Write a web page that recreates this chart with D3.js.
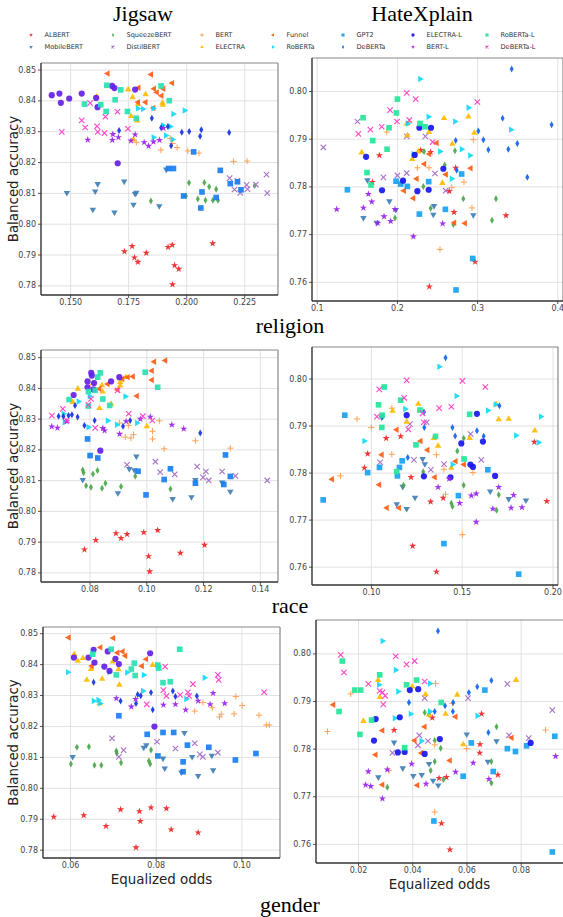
<!DOCTYPE html>
<html>
<head>
<meta charset="utf-8">
<script src="https://cdn.jsdelivr.net/npm/d3@7"></script>
<style>
  body { margin: 0; background: #fff; }
  svg { display: block; }
</style>
</head>
<body>
<div class="container"></div>
<script>
const width = 563;
const height = 917;

// modelos, na ordem da legenda
const models = ['ALBERT', 'MobileBERT', 'SqueezeBERT', 'DistilBERT', 'BERT', 'ELECTRA', 'Funnel',
  'RoBERTa', 'GPT2', 'DeBERTa', 'ELECTRA-L', 'BERT-L', 'RoBERTa-L', 'DeBERTa-L'];
const shapes = ['star', 'triDown', 'thinDiamond', 'x', 'plus', 'triUp', 'triLeft',
  'triRight', 'square', 'thinDiamond', 'circle', 'star', 'square', 'x'];
const colors = ['#ee2424', '#3f7fb6', '#4aa64a', '#a672c8', '#ffa255', '#ffbb00', '#ff5c12',
  '#14d8fa', '#18a2f2', '#1062f0', '#1616f0', '#9a22f0', '#24e69a', '#ff44c8'];
// no Jigsaw alguns tons são diferentes
const jigsawColors = { 'GPT2': '#1a7ef0', 'DeBERTa': '#1432e0', 'ELECTRA-L': '#6420e6', 'RoBERTa-L': '#26e2b2' };

const datasets = ['Jigsaw', 'HateXplain'];
const attributes = ['religion', 'race', 'gender'];

// [equalized odds, balanced accuracy]
const jigsawReligion = {
  'ALBERT': [[0.1734,0.7910],[0.1767,0.7927],[0.1777,0.7890],[0.1792,0.7876],[0.1828,0.7905],[0.1922,0.7924],[0.1940,0.7931],[0.1950,0.7865],[0.1968,0.7853],[0.1941,0.7803],[0.2114,0.7936]],
  'MobileBERT': [[0.1486,0.8100],[0.1608,0.8105],[0.1619,0.8129],[0.1598,0.8046],[0.1691,0.8037],[0.1733,0.8137],[0.1780,0.8097],[0.1785,0.8101],[0.1773,0.8062],[0.1884,0.8057],[0.1914,0.8176]],
  'SqueezeBERT': [[0.1848,0.8074],[0.1999,0.8090],[0.2012,0.8133],[0.2050,0.8080],[0.2078,0.8134],[0.2083,0.8076],[0.2099,0.8120],[0.2115,0.8076],[0.2129,0.8112],[0.2137,0.8076],[0.2295,0.8124]],
  'DistilBERT': [[0.2187,0.8148],[0.2208,0.8111],[0.2220,0.8139],[0.2233,0.8100],[0.2260,0.8126],[0.2264,0.8112],[0.2300,0.8127],[0.2346,0.8159],[0.2349,0.8099]],
  'BERT': [[0.1785,0.8264],[0.1891,0.8239],[0.1931,0.8277],[0.1941,0.8260],[0.1961,0.8247],[0.2007,0.8236],[0.2055,0.8229],[0.2204,0.8202],[0.2262,0.8203]],
  'ELECTRA': [[0.1750,0.8435],[0.1769,0.8410],[0.1825,0.8419],[0.1792,0.8387],[0.1898,0.8392],[0.1899,0.8385],[0.1763,0.8349],[0.1789,0.8334],[0.1773,0.8273],[0.1615,0.8412]],
  'Funnel': [[0.1662,0.8487],[0.1849,0.8484],[0.1940,0.8456],[0.1795,0.8441],[0.1862,0.8438],[0.1902,0.8438],[0.1874,0.8426],[0.1894,0.8415],[0.1825,0.8394],[0.1793,0.8394],[0.1859,0.8375]],
  'RoBERTa': [[0.1792,0.8374],[0.1813,0.8372],[0.1858,0.8374],[0.1944,0.8356],[0.1993,0.8367],[0.1899,0.8319],[0.1941,0.8273],[0.1859,0.8280],[0.1912,0.8286],[0.1931,0.8315]],
  'GPT2': [[0.1924,0.8179],[0.1945,0.8179],[0.2032,0.8233],[0.2147,0.8173],[0.1989,0.8090],[0.2068,0.8103],[0.2063,0.8051],[0.2129,0.8085],[0.2190,0.8130],[0.2221,0.8136],[0.2236,0.8110]],
  'DeBERTa': [[0.1852,0.8342],[0.1711,0.8302],[0.1892,0.8311],[0.1921,0.8315],[0.1981,0.8297],[0.2013,0.8299],[0.2060,0.8284],[0.2065,0.8305],[0.2185,0.8296],[0.1935,0.8253]],
  'ELECTRA-L': [[0.1421,0.8417],[0.1454,0.8422],[0.1460,0.8392],[0.1496,0.8406],[0.1550,0.8422],[0.1612,0.8408],[0.1618,0.8378],[0.1681,0.8447],[0.1691,0.8440],[0.1780,0.8435],[0.1705,0.8196]],
  'BERT-L': [[0.1576,0.8272],[0.1684,0.8290],[0.1682,0.8271],[0.1708,0.8280],[0.1762,0.8269],[0.1780,0.8289],[0.1819,0.8264],[0.1838,0.8252],[0.1859,0.8266],[0.1885,0.8271],[0.1902,0.8310]],
  'RoBERTa-L': [[0.1658,0.8449],[0.1562,0.8388],[0.1632,0.8386],[0.1655,0.8364],[0.1694,0.8402],[0.1718,0.8434],[0.1747,0.8364],[0.1785,0.8342],[0.1892,0.8447],[0.1927,0.8399]],
  'DeBERTa-L': [[0.1464,0.8298],[0.1550,0.8335],[0.1565,0.8312],[0.1586,0.8391],[0.1616,0.8316],[0.1619,0.8298],[0.1648,0.8294],[0.1652,0.8347],[0.1704,0.8363],[0.1749,0.8308]]
};

const hatexplainReligion = {
  'ALBERT': [[0.1781,0.7865],[0.2296,0.7876],[0.2421,0.7872],[0.2654,0.7790],[0.2733,0.7839],[0.2712,0.7746],[0.3360,0.7739],[0.2404,0.7590],[0.2974,0.7642],[0.1694,0.7809]],
  'MobileBERT': [[0.1632,0.7813],[0.1582,0.7734],[0.1748,0.7724],[0.1906,0.7769],[0.2454,0.7741],[0.2463,0.7759],[0.2953,0.7740],[0.1985,0.7751]],
  'SqueezeBERT': [[0.2338,0.7873],[0.2596,0.7845],[0.2724,0.7875],[0.2828,0.7774],[0.3235,0.7774],[0.3186,0.7729],[0.2330,0.7800],[0.2421,0.7754],[0.2704,0.7720],[0.1976,0.7734]],
  'DistilBERT': [[0.1083,0.7882],[0.1507,0.7936],[0.2122,0.7905],[0.2355,0.7905],[0.1831,0.7819],[0.2006,0.7823],[0.2122,0.7828],[0.2475,0.7827],[0.2608,0.7791]],
  'BERT': [[0.1873,0.7914],[0.2151,0.7936],[0.2255,0.7839],[0.2400,0.7839],[0.2683,0.7798],[0.2836,0.7809],[0.2953,0.7898],[0.2936,0.7755],[0.2537,0.7668]],
  'ELECTRA': [[0.1561,0.7871],[0.2122,0.7931],[0.2130,0.7907],[0.2400,0.7914],[0.2587,0.7943],[0.2891,0.7946],[0.2965,0.7912],[0.2691,0.7889],[0.2192,0.7857],[0.2267,0.7873],[0.2566,0.7807]],
  'Funnel': [[0.2496,0.7891],[0.2342,0.7847],[0.2404,0.7868],[0.2247,0.7816],[0.2089,0.7791],[0.2205,0.7775],[0.2612,0.7825],[0.2920,0.7838],[0.2716,0.7724],[0.2849,0.7723]],
  'RoBERTa': [[0.2288,0.8025],[0.2891,0.7965],[0.2392,0.7946],[0.2134,0.7932],[0.2724,0.7936],[0.2537,0.7873],[0.2807,0.7878],[0.2911,0.7865],[0.2683,0.7816],[0.3422,0.7919],[0.2205,0.7868]],
  'GPT2': [[0.1382,0.7793],[0.1989,0.7811],[0.2047,0.7805],[0.2130,0.7800],[0.2396,0.7810],[0.2604,0.7752],[0.2280,0.7742],[0.2807,0.7826],[0.2945,0.7649],[0.2737,0.7583]],
  'DeBERTa': [[0.3431,0.8046],[0.3318,0.7943],[0.3015,0.7916],[0.3078,0.7898],[0.2733,0.7896],[0.3140,0.7877],[0.3389,0.7878],[0.3501,0.7890],[0.3626,0.7819],[0.3929,0.7929],[0.2745,0.7834]],
  'ELECTRA-L': [[0.1615,0.7862],[0.2222,0.7866],[0.2280,0.7923],[0.2425,0.7923],[0.2076,0.7812],[0.1814,0.7792],[0.2255,0.7790],[0.2396,0.7793],[0.2579,0.7837]],
  'BERT-L': [[0.1249,0.7752],[0.1582,0.7755],[0.1644,0.7784],[0.1686,0.7768],[0.1760,0.7723],[0.1839,0.7737],[0.1922,0.7727],[0.1976,0.7752],[0.2205,0.7695],[0.2571,0.7722]],
  'RoBERTa-L': [[0.1578,0.7944],[0.2006,0.7983],[0.1993,0.7954],[0.1902,0.7923],[0.1698,0.7896],[0.1877,0.7878],[0.1627,0.7829],[0.1677,0.7803],[0.2288,0.7932],[0.2350,0.7925]],
  'DeBERTa-L': [[0.2122,0.7996],[0.2234,0.7983],[0.1914,0.7960],[0.2001,0.7936],[0.2155,0.7939],[0.1810,0.7925],[0.1669,0.7919],[0.1519,0.7910],[0.2446,0.7893],[0.3003,0.7977]]
};

const jigsawRace = {
  'ALBERT': [[0.0782,0.7874],[0.0822,0.7905],[0.0893,0.7927],[0.0911,0.7911],[0.0932,0.7924],[0.0991,0.7930],[0.1040,0.7937],[0.1008,0.7852],[0.1012,0.7803],[0.1120,0.7863],[0.1205,0.7889]],
  'MobileBERT': [[0.0776,0.8101],[0.0900,0.8058],[0.0940,0.8137],[0.0958,0.8133],[0.0965,0.8177],[0.1093,0.8039],[0.1159,0.8045],[0.1173,0.8101],[0.1267,0.8093],[0.1296,0.8063]],
  'SqueezeBERT': [[0.0776,0.8133],[0.0779,0.8124],[0.0788,0.8082],[0.0805,0.8077],[0.0812,0.8120],[0.0828,0.8131],[0.0844,0.8074],[0.0856,0.8090],[0.0911,0.8079],[0.0961,0.8113],[0.1085,0.8071]],
  'DistilBERT': [[0.0932,0.8150],[0.1032,0.8160],[0.1049,0.8126],[0.1100,0.8119],[0.1179,0.8144],[0.1200,0.8109],[0.1210,0.8128],[0.1220,0.8099],[0.1267,0.8128],[0.1314,0.8114],[0.1426,0.8099]],
  'BERT': [[0.0906,0.8286],[0.0938,0.8278],[0.0926,0.8240],[0.0946,0.8237],[0.0955,0.8248],[0.1022,0.8259],[0.1022,0.8234],[0.1046,0.8293],[0.1063,0.8202],[0.1173,0.8228],[0.1296,0.8204]],
  'ELECTRA': [[0.0759,0.8397],[0.0741,0.8354],[0.0812,0.8415],[0.0835,0.8334],[0.0844,0.8408],[0.0846,0.8388],[0.0908,0.8419],[0.0908,0.8408],[0.0928,0.8435],[0.0876,0.8348],[0.1002,0.8275]],
  'Funnel': [[0.1067,0.8489],[0.1028,0.8485],[0.1020,0.8456],[0.1020,0.8426],[0.0967,0.8374],[0.0953,0.8437],[0.0935,0.8435],[0.0916,0.8429],[0.0864,0.8413],[0.0835,0.8397],[0.0899,0.8394]],
  'RoBERTa': [[0.0708,0.8316],[0.0761,0.8356],[0.0800,0.8373],[0.0864,0.8293],[0.0896,0.8280],[0.0926,0.8372],[0.0967,0.8286],[0.0796,0.8272],[0.0712,0.8288]],
  'GPT2': [[0.0793,0.8234],[0.0802,0.8180],[0.0829,0.8172],[0.0971,0.8129],[0.0999,0.8052],[0.1063,0.8102],[0.1085,0.8137],[0.1173,0.8090],[0.1279,0.8182],[0.1273,0.8086],[0.1296,0.8112]],
  'DeBERTa': [[0.0691,0.8308],[0.0708,0.8307],[0.0726,0.8310],[0.0738,0.8313],[0.0749,0.8343],[0.0758,0.8305],[0.0782,0.8278],[0.0818,0.8294],[0.0918,0.8275],[0.0943,0.8294],[0.1190,0.8253]],
  'ELECTRA-L': [[0.0744,0.8377],[0.0793,0.8421],[0.0793,0.8402],[0.0806,0.8449],[0.0808,0.8440],[0.0816,0.8416],[0.0814,0.8395],[0.0876,0.8421],[0.0905,0.8435],[0.0838,0.8196]],
  'BERT-L': [[0.0667,0.8274],[0.0687,0.8270],[0.0720,0.8291],[0.0847,0.8269],[0.0853,0.8261],[0.0906,0.8250],[0.0929,0.8291],[0.0979,0.8299],[0.1014,0.8306],[0.1090,0.8280],[0.1132,0.8267]],
  'RoBERTa-L': [[0.0728,0.8362],[0.0796,0.8388],[0.0796,0.8341],[0.0820,0.8392],[0.0838,0.8449],[0.0829,0.8435],[0.0847,0.8364],[0.0871,0.8343],[0.0996,0.8451],[0.1040,0.8402]],
  'DeBERTa-L': [[0.0667,0.8310],[0.0706,0.8332],[0.0796,0.8345],[0.0805,0.8364],[0.0820,0.8270],[0.0899,0.8392],[0.0938,0.8316],[0.0988,0.8308],[0.1021,0.8294],[0.0720,0.8294]]
};

const hatexplainRace = {
  'ALBERT': [[0.0982,0.7840],[0.0964,0.7810],[0.1084,0.7873],[0.1164,0.7877],[0.1221,0.7790],[0.1329,0.7738],[0.1398,0.7746],[0.1361,0.7589],[0.1230,0.7644],[0.1969,0.7739],[0.1900,0.7865]],
  'MobileBERT': [[0.1060,0.7917],[0.1175,0.7770],[0.1142,0.7733],[0.1197,0.7723],[0.1243,0.7747],[0.1285,0.7829],[0.1297,0.7818],[0.1657,0.7760],[0.1759,0.7744],[0.1854,0.7741]],
  'SqueezeBERT': [[0.1179,0.7773],[0.1288,0.7802],[0.1443,0.7735],[0.1449,0.7728],[0.1476,0.7846],[0.1511,0.7773],[0.1511,0.7873],[0.1704,0.7753],[0.1692,0.7720]],
  'DistilBERT': [[0.1051,0.7822],[0.1215,0.7903],[0.1237,0.7827],[0.1330,0.7806],[0.1403,0.7818],[0.1549,0.7882],[0.1608,0.7827],[0.1307,0.7907]],
  'BERT': [[0.0832,0.7793],[0.0923,0.7914],[0.1002,0.7896],[0.1115,0.7937],[0.1115,0.7839],[0.1361,0.7838],[0.1402,0.7807],[0.1411,0.7754],[0.1562,0.7800],[0.1504,0.7668]],
  'ELECTRA': [[0.1119,0.7931],[0.1197,0.7908],[0.1261,0.7946],[0.1347,0.7873],[0.1370,0.7857],[0.1443,0.7810],[0.1544,0.7873],[0.1704,0.7913],[0.1759,0.7914],[0.1903,0.7889],[0.1690,0.7945]],
  'Funnel': [[0.0786,0.7786],[0.1046,0.7774],[0.1060,0.7838],[0.1088,0.7725],[0.1142,0.7891],[0.1155,0.7725],[0.1274,0.7867],[0.1312,0.7848],[0.1352,0.7790],[0.1467,0.7824],[0.1513,0.7817]],
  'RoBERTa': [[0.0963,0.7867],[0.1188,0.7935],[0.1376,0.8025],[0.1471,0.7963],[0.1449,0.7817],[0.1644,0.7932],[0.1686,0.7945],[0.1799,0.7879],[0.1923,0.7864],[0.1936,0.7919]],
  'GPT2': [[0.0737,0.7742],[0.0856,0.7922],[0.0982,0.7800],[0.1047,0.7811],[0.1157,0.7811],[0.1172,0.7825],[0.1146,0.7793],[0.1402,0.7649],[0.1482,0.7751],[0.1644,0.7806],[0.1814,0.7584]],
  'DeBERTa': [[0.1411,0.8044],[0.1064,0.7919],[0.1203,0.7832],[0.1292,0.7929],[0.1294,0.7896],[0.1449,0.7896],[0.1464,0.7878],[0.1584,0.7889],[0.1621,0.7877],[0.1708,0.7942]],
  'ELECTRA-L': [[0.1197,0.7922],[0.1292,0.7792],[0.1438,0.7790],[0.1498,0.7862],[0.1548,0.7817],[0.1562,0.7812],[0.1584,0.7925],[0.1617,0.7866],[0.1684,0.7793]],
  'BERT-L': [[0.1370,0.7769],[0.1431,0.7787],[0.1489,0.7735],[0.1553,0.7751],[0.1580,0.7755],[0.1580,0.7695],[0.1672,0.7723],[0.1704,0.7769],[0.1772,0.7725],[0.1786,0.7752],[0.1832,0.7726]],
  'RoBERTa-L': [[0.1042,0.7944],[0.1062,0.7922],[0.1073,0.7982],[0.1060,0.7896],[0.1164,0.7954],[0.1248,0.7859],[0.1270,0.7933],[0.1356,0.7877],[0.1142,0.7802],[0.1513,0.7829],[0.1544,0.7924]],
  'DeBERTa-L': [[0.1046,0.7977],[0.1197,0.7996],[0.1183,0.7959],[0.1206,0.7892],[0.1033,0.7919],[0.1285,0.7926],[0.1376,0.7937],[0.1443,0.7940],[0.1504,0.7995],[0.1630,0.7982],[0.1292,0.7907]]
};

const jigsawGender = {
  'ALBERT': [[0.0562,0.7906],[0.0632,0.7911],[0.0684,0.7876],[0.0718,0.7930],[0.0754,0.7807],[0.0762,0.7924],[0.0764,0.7892],[0.0789,0.7936],[0.0825,0.7933],[0.0836,0.7865],[0.0899,0.7855]],
  'MobileBERT': [[0.0606,0.8100],[0.0778,0.8138],[0.0772,0.8130],[0.0817,0.8095],[0.0821,0.8063],[0.0867,0.8178],[0.0860,0.8050],[0.0885,0.8100],[0.0899,0.8039],[0.0931,0.8104],[0.0934,0.8057]],
  'SqueezeBERT': [[0.0602,0.8077],[0.0616,0.8131],[0.0644,0.8133],[0.0657,0.8073],[0.0673,0.8073],[0.0708,0.8119],[0.0709,0.8112],[0.0719,0.8081],[0.0784,0.8087],[0.0789,0.8122],[0.0787,0.8077]],
  'DistilBERT': [[0.0698,0.8160],[0.0714,0.8100],[0.0725,0.8122],[0.0803,0.8149],[0.0846,0.8127],[0.0891,0.8144],[0.0903,0.8108],[0.0910,0.8100],[0.0945,0.8114]],
  'BERT': [[0.0891,0.8248],[0.0910,0.8276],[0.0932,0.8259],[0.0949,0.8229],[0.0953,0.8238],[0.0983,0.8239],[0.0987,0.8295],[0.1002,0.8266],[0.1041,0.8235],[0.1058,0.8203],[0.1065,0.8203]],
  'ELECTRA': [[0.0610,0.8432],[0.0618,0.8410],[0.0630,0.8419],[0.0639,0.8349],[0.0649,0.8384],[0.0675,0.8352],[0.0700,0.8408],[0.0713,0.8383],[0.0715,0.8333],[0.0793,0.8397],[0.0669,0.8273]],
  'Funnel': [[0.0597,0.8486],[0.0671,0.8454],[0.0701,0.8484],[0.0711,0.8437],[0.0723,0.8441],[0.0729,0.8427],[0.0778,0.8416],[0.0768,0.8394],[0.0651,0.8394]],
  'RoBERTa': [[0.0595,0.8374],[0.0655,0.8281],[0.0666,0.8284],[0.0670,0.8273],[0.0692,0.8374],[0.0733,0.8373],[0.0770,0.8313],[0.0772,0.8365],[0.0871,0.8287],[0.0914,0.8356]],
  'GPT2': [[0.0714,0.8233],[0.0780,0.8173],[0.0817,0.8179],[0.0842,0.8179],[0.0805,0.8103],[0.0864,0.8084],[0.0864,0.8052],[0.0874,0.8138],[0.0924,0.8131],[0.0986,0.8090],[0.1034,0.8111]],
  'DeBERTa': [[0.0655,0.8341],[0.0718,0.8281],[0.0754,0.8273],[0.0758,0.8302],[0.0765,0.8298],[0.0789,0.8308],[0.0793,0.8252],[0.0840,0.8313],[0.0846,0.8295],[0.0896,0.8297]],
  'ELECTRA-L': [[0.0609,0.8421],[0.0643,0.8421],[0.0655,0.8446],[0.0657,0.8405],[0.0680,0.8392],[0.0688,0.8441],[0.0692,0.8378],[0.0706,0.8417],[0.0714,0.8400],[0.0787,0.8435],[0.0797,0.8198]],
  'BERT-L': [[0.0708,0.8289],[0.0743,0.8262],[0.0753,0.8287],[0.0818,0.8268],[0.0846,0.8270],[0.0870,0.8252],[0.0899,0.8281],[0.0927,0.8270],[0.0934,0.8306],[0.0961,0.8273]],
  'RoBERTa-L': [[0.0653,0.8432],[0.0696,0.8448],[0.0708,0.8365],[0.0743,0.8384],[0.0750,0.8403],[0.0752,0.8363],[0.0805,0.8397],[0.0807,0.8387],[0.0817,0.8340],[0.0834,0.8343],[0.0856,0.8448]],
  'DeBERTa-L': [[0.0779,0.8270],[0.0822,0.8392],[0.0818,0.8316],[0.0825,0.8297],[0.0857,0.8300],[0.0875,0.8309],[0.0878,0.8297],[0.0887,0.8335],[0.0945,0.8365],[0.0947,0.8349],[0.1053,0.8309]]
};

const hatexplainGender = {
  'ALBERT': [[0.0333,0.7839],[0.0474,0.7865],[0.0499,0.7738],[0.0526,0.7740],[0.0508,0.7643],[0.0539,0.7588],[0.0649,0.7791],[0.0656,0.7873],[0.0716,0.7745],[0.0650,0.7809]],
  'MobileBERT': [[0.0275,0.7740],[0.0333,0.7813],[0.0365,0.7759],[0.0404,0.7743],[0.0435,0.7745],[0.0462,0.7768],[0.0477,0.7733],[0.0496,0.7723],[0.0601,0.7830],[0.0679,0.7773],[0.0711,0.7816]],
  'SqueezeBERT': [[0.0308,0.7719],[0.0446,0.7876],[0.0462,0.7872],[0.0483,0.7817],[0.0483,0.7773],[0.0468,0.7754],[0.0505,0.7801],[0.0515,0.7735],[0.0692,0.7728],[0.0692,0.7773],[0.0711,0.7846]],
  'DistilBERT': [[0.0327,0.7791],[0.0426,0.7828],[0.0421,0.7807],[0.0446,0.7906],[0.0458,0.7816],[0.0606,0.7906],[0.0751,0.7936],[0.0757,0.7828],[0.0830,0.7822],[0.0917,0.7881]],
  'BERT': [[0.0087,0.7836],[0.0173,0.7915],[0.0314,0.7754],[0.0483,0.7667],[0.0486,0.7937],[0.0483,0.7808],[0.0548,0.7895],[0.0601,0.7800],[0.0892,0.7839]],
  'ELECTRA': [[0.0220,0.7858],[0.0274,0.7944],[0.0281,0.7908],[0.0400,0.7930],[0.0449,0.7914],[0.0462,0.7871],[0.0523,0.7873],[0.0566,0.7913],[0.0588,0.7809],[0.0783,0.7944]],
  'Funnel': [[0.0109,0.7892],[0.0265,0.7787],[0.0290,0.7838],[0.0290,0.7724],[0.0409,0.7817],[0.0446,0.7846],[0.0434,0.7791],[0.0419,0.7723],[0.0539,0.7775],[0.0560,0.7867],[0.0767,0.7823]],
  'RoBERTa': [[0.0290,0.8026],[0.0339,0.7965],[0.0348,0.7920],[0.0277,0.7934],[0.0394,0.7873],[0.0335,0.7864],[0.0434,0.7816],[0.0465,0.7937],[0.0465,0.7878],[0.0640,0.7869]],
  'GPT2': [[0.0480,0.7648],[0.0588,0.7742],[0.0618,0.7812],[0.0668,0.7923],[0.0699,0.7752],[0.0751,0.7800],[0.0781,0.7794],[0.0822,0.7806],[0.0926,0.7826],[0.0917,0.7583]],
  'DeBERTa': [[0.0495,0.8047],[0.0388,0.7897],[0.0483,0.7878],[0.0521,0.7890],[0.0551,0.7897],[0.0550,0.7878],[0.0609,0.7918],[0.0640,0.7930],[0.0692,0.7943],[0.0681,0.7834]],
  'ELECTRA-L': [[0.0265,0.7862],[0.0259,0.7817],[0.0354,0.7866],[0.0347,0.7792],[0.0372,0.7793],[0.0391,0.7923],[0.0422,0.7925],[0.0446,0.7789],[0.0502,0.7820],[0.0837,0.7812]],
  'BERT-L': [[0.0228,0.7724],[0.0238,0.7752],[0.0247,0.7721],[0.0290,0.7695],[0.0308,0.7756],[0.0398,0.7768],[0.0451,0.7726],[0.0560,0.7751],[0.0625,0.7770],[0.0683,0.7736],[0.0929,0.7784]],
  'RoBERTa-L': [[0.0142,0.7984],[0.0130,0.7878],[0.0188,0.7923],[0.0210,0.7923],[0.0207,0.7830],[0.0250,0.7860],[0.0280,0.7955],[0.0379,0.7934],[0.0416,0.7944],[0.0372,0.7802],[0.0507,0.7897]],
  'DeBERTa-L': [[0.0136,0.7997],[0.0148,0.7960],[0.0238,0.7936],[0.0280,0.7921],[0.0290,0.7918],[0.0300,0.7911],[0.0293,0.7893],[0.0339,0.7994],[0.0379,0.7977],[0.0409,0.7984],[0.0446,0.7941]]
};

// ticks
const jigsawYTicks = [0.78, 0.79, 0.80, 0.81, 0.82, 0.83, 0.84, 0.85];
const hatexplainYTicks = [0.76, 0.77, 0.78, 0.79, 0.80];
const religionXTicksJ = [0.150, 0.175, 0.200, 0.225];
const religionXTicksH = [0.1, 0.2, 0.3, 0.4];
const raceXTicksJ = [0.08, 0.10, 0.12, 0.14];
const raceXTicksH = [0.10, 0.15, 0.20];
const genderXTicksJ = [0.06, 0.08, 0.10];
const genderXTicksH = [0.02, 0.04, 0.06, 0.08];

// caixas dos paineis [x0, y0, x1, y1]
const panels = [
  { data: jigsawReligion, set: 'Jigsaw', box: [41, 63, 278, 295], xTicks: religionXTicksJ, xFmt: '.3f', yTicks: jigsawYTicks },
  { data: hatexplainReligion, set: 'HateXplain', box: [312, 58, 563, 301], xTicks: religionXTicksH, xFmt: '.1f', yTicks: hatexplainYTicks },
  { data: jigsawRace, set: 'Jigsaw', box: [41, 350, 278, 582], xTicks: raceXTicksJ, xFmt: '.2f', yTicks: jigsawYTicks },
  { data: hatexplainRace, set: 'HateXplain', box: [312, 347, 558, 585], xTicks: raceXTicksH, xFmt: '.2f', yTicks: hatexplainYTicks },
  { data: jigsawGender, set: 'Jigsaw', box: [43, 627, 280, 858], xTicks: genderXTicksJ, xFmt: '.2f', yTicks: jigsawYTicks, xLabelY: 884 },
  { data: hatexplainGender, set: 'HateXplain', box: [316, 620, 567, 863], xTicks: genderXTicksH, xFmt: '.2f', yTicks: hatexplainYTicks, xLabelY: 889 }
];

function markerPath(shape, k) {
  k = k || 1;
  switch (shape) {
    case 'circle': return d3.symbol(d3.symbolCircle, 30 * k * k)();
    case 'square': return d3.symbol(d3.symbolSquare, 32 * k * k)();
    case 'star': return d3.symbol(d3.symbolStar, 16 * k * k)();
    case 'triUp': case 'triDown': case 'triLeft': case 'triRight':
      return d3.symbol(d3.symbolTriangle, 18 * k * k)();
    case 'thinDiamond': return `M0,${-3.5 * k}L${2 * k},0L0,${3.5 * k}L${-2 * k},0Z`;
    case 'x': { const r = 2.7 * k; return `M${-r},${-r}L${r},${r}M${-r},${r}L${r},${-r}`; }
    case 'plus': { const r = 3.1 * k; return `M${-r},0H${r}M0,${-r}V${r}`; }
  }
}
const rotation = { triDown: 180, triLeft: -90, triRight: 90 };

function styleMarker(sel, shape, color) {
  if (shape === 'x' || shape === 'plus') {
    sel.attr('fill', 'none').attr('stroke', color).attr('stroke-width', shape === 'x' ? 1.1 : 1);
  } else {
    sel.attr('fill', color).attr('fill-opacity', 0.92);
  }
}

const svg = d3.select('.container')
  .append('svg')
  .attr('width', width)
  .attr('height', height)
  .style('font-family', '"DejaVu Sans", sans-serif');

// titulos
svg.selectAll('.titulo')
  .data(datasets)
  .enter()
  .append('text')
  .attr('class', 'titulo')
  .attr('x', (d, i) => i === 0 ? 143 : 422)
  .attr('y', 21)
  .attr('text-anchor', 'middle')
  .attr('font-family', '"Liberation Serif", "DejaVu Serif", serif')
  .attr('font-size', 22)
  .text(d => d);

// legenda
const legendColX = [31, 113, 202, 273, 343, 413, 487];
const legenda = svg.append('g').attr('class', 'legenda');
models.forEach((m, i) => {
  const cx = legendColX[Math.floor(i / 2)];
  const cy = 35 + (i % 2) * 12;
  const shape = shapes[i];
  legenda.append('path')
    .attr('d', markerPath(shape, 0.55))
    .attr('transform', `translate(${cx},${cy}) rotate(${rotation[shape] || 0})`)
    .call(styleMarker, shape, colors[i]);
  legenda.append('text')
    .attr('x', cx + 13.5)
    .attr('y', cy)
    .attr('dy', '0.35em')
    .attr('font-size', 6.6)
    .attr('fill', '#333')
    .text(m);
});

panels.forEach((p, pi) => {
  const [x0, y0, x1, y1] = p.box;
  const pts = Object.values(p.data).flat();
  const xe = d3.extent(pts, d => d[0]);
  const ye = d3.extent(pts, d => d[1]);
  const xp = (xe[1] - xe[0]) * 0.05;
  const yp = (ye[1] - ye[0]) * 0.05;
  const x = d3.scaleLinear().domain([xe[0] - xp, xe[1] + xp]).range([x0, x1]);
  const y = d3.scaleLinear().domain([ye[0] - yp, ye[1] + yp]).range([y1, y0]);

  const g = svg.append('g').attr('class', 'painel');

  // grade
  g.append('g')
    .attr('transform', `translate(0,${y1})`)
    .call(d3.axisBottom(x).tickValues(p.xTicks).tickSize(-(y1 - y0)).tickFormat(''))
    .call(a => {
      a.select('.domain').remove();
      a.selectAll('line').attr('stroke', '#e2e2e2').attr('stroke-width', 1);
    });
  g.append('g')
    .attr('transform', `translate(${x0},0)`)
    .call(d3.axisLeft(y).tickValues(p.yTicks).tickSize(-(x1 - x0)).tickFormat(''))
    .call(a => {
      a.select('.domain').remove();
      a.selectAll('line').attr('stroke', '#e2e2e2').attr('stroke-width', 1);
    });

  // eixos
  g.append('g')
    .attr('transform', `translate(0,${y1})`)
    .call(d3.axisBottom(x).tickValues(p.xTicks).tickSize(3).tickPadding(1.5).tickFormat(d3.format(p.xFmt)))
    .call(a => {
      a.select('.domain').remove();
      a.selectAll('line').attr('stroke', '#555');
      a.selectAll('text').attr('font-size', 8).attr('fill', '#444').attr('font-family', '"DejaVu Sans", sans-serif');
    });
  g.append('g')
    .attr('transform', `translate(${x0},0)`)
    .call(d3.axisLeft(y).tickValues(p.yTicks).tickSize(3).tickPadding(2).tickFormat(d3.format('.2f')))
    .call(a => {
      a.select('.domain').remove();
      a.selectAll('line').attr('stroke', '#555');
      a.selectAll('text').attr('font-size', 8).attr('fill', '#444').attr('font-family', '"DejaVu Sans", sans-serif');
    });

  // pontos
  const clipId = `clip${pi}`;
  g.append('clipPath').attr('id', clipId)
    .append('rect').attr('x', x0).attr('y', y0).attr('width', x1 - x0).attr('height', y1 - y0);
  const pontos = g.append('g').attr('clip-path', `url(#${clipId})`);
  models.forEach((m, i) => {
    const shape = shapes[i];
    const color = p.set === 'Jigsaw' && jigsawColors[m] ? jigsawColors[m] : colors[i];
    pontos.selectAll(null)
      .data(p.data[m] || [])
      .enter()
      .append('path')
      .attr('d', markerPath(shape))
      .attr('transform', d => `translate(${x(d[0])},${y(d[1])}) rotate(${rotation[shape] || 0})`)
      .call(styleMarker, shape, color);
  });

  // moldura: esquerda e base escuras, topo e direita cinza
  g.append('line').attr('x1', x0).attr('x2', x1).attr('y1', y0).attr('y2', y0).attr('stroke', '#888').attr('stroke-width', 1.2);
  g.append('line').attr('x1', x1).attr('x2', x1).attr('y1', y0).attr('y2', y1).attr('stroke', '#888').attr('stroke-width', 1.2);
  g.append('line').attr('x1', x0).attr('x2', x0).attr('y1', y0).attr('y2', y1).attr('stroke', '#333').attr('stroke-width', 1.4);
  g.append('line').attr('x1', x0).attr('x2', x1).attr('y1', y1).attr('y2', y1).attr('stroke', '#333').attr('stroke-width', 1.4);

  if (p.set === 'Jigsaw') {
    svg.append('text')
      .attr('transform', `translate(13,${(y0 + y1) / 2}) rotate(-90)`)
      .attr('text-anchor', 'middle')
      .attr('dy', '0.35em')
      .attr('font-size', 13.4)
      .attr('fill', '#222')
      .text('Balanced accuracy');
  }
  if (p.xLabelY) {
    svg.append('text')
      .attr('x', (x0 + Math.min(x1, width)) / 2)
      .attr('y', p.xLabelY)
      .attr('text-anchor', 'middle')
      .attr('font-size', 13.4)
      .attr('fill', '#222')
      .text('Equalized odds');
  }
});

// atributos
svg.selectAll('.atributo')
  .data(attributes)
  .enter()
  .append('text')
  .attr('class', 'atributo')
  .attr('x', 290)
  .attr('y', (d, i) => [333, 613, 912][i])
  .attr('text-anchor', 'middle')
  .attr('font-family', '"Liberation Serif", "DejaVu Serif", serif')
  .attr('font-size', 22)
  .text(d => d);
</script>
</body>
</html>
